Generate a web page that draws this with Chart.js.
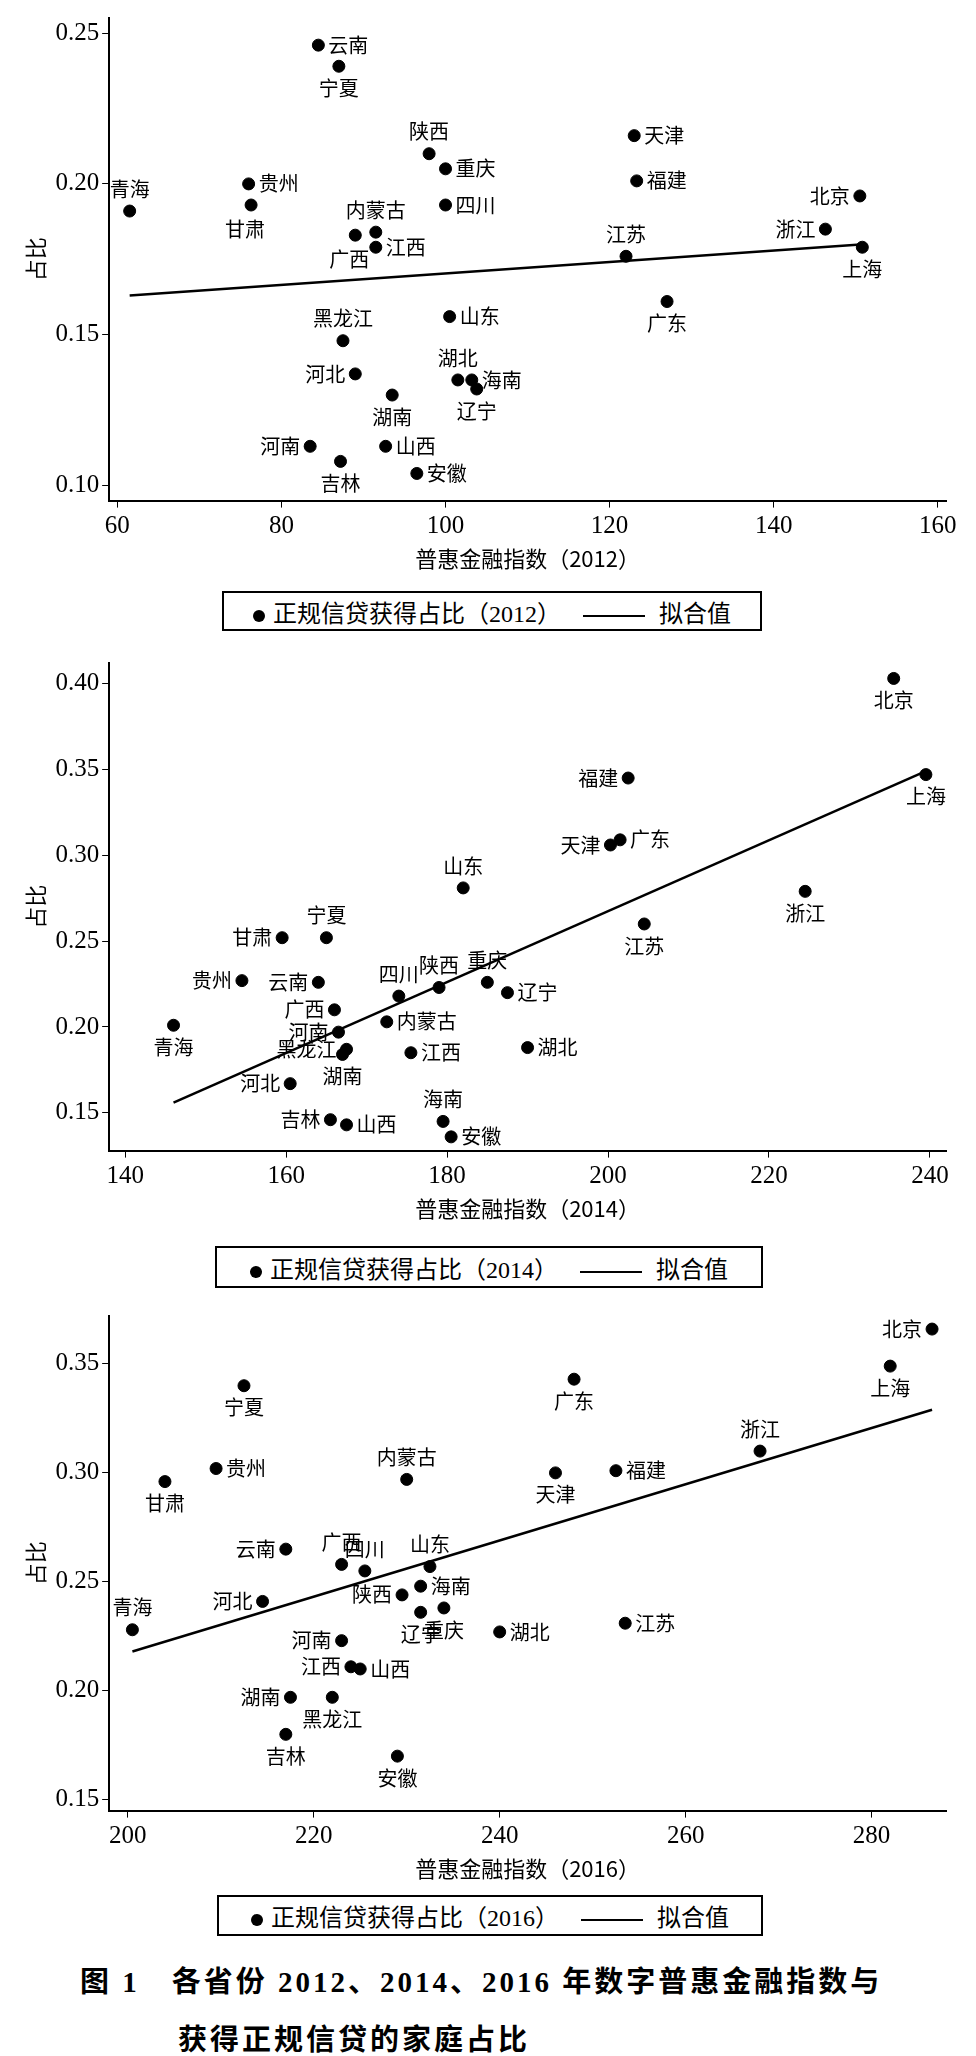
<!DOCTYPE html>
<html><head><meta charset="utf-8">
<script src="https://cdn.jsdelivr.net/npm/chart.js@4/dist/chart.umd.min.js"></script>
<style>
body{margin:0;background:#fff;width:976px;height:2056px;position:relative;font-family:"Liberation Serif","Noto Sans CJK SC",serif;}
.c{position:absolute;left:0;width:976px;}
.lg{position:absolute;border:2px solid #000;box-sizing:border-box;font-size:24px;display:flex;align-items:center;justify-content:center;gap:22px;font-family:"Liberation Serif","Noto Sans CJK SC";}
.dot{display:inline-block;width:12px;height:12px;border-radius:50%;background:#000;margin-right:8px;vertical-align:middle}
.ln{display:inline-block;width:62px;border-top:2px solid #000;vertical-align:middle;margin-right:14px}
.cap{position:absolute;left:80px;font-weight:bold;font-size:29px;letter-spacing:3px;font-family:"Liberation Serif","Noto Sans CJK SC";}
</style></head><body>
<div class="c" style="top:0;height:580px"><canvas id="c1"></canvas></div>
<div class="c" style="top:645px;height:585px"><canvas id="c2"></canvas></div>
<div class="c" style="top:1298px;height:592px"><canvas id="c3"></canvas></div>
<div class="lg" style="left:222px;top:591px;width:540px;height:40px"><span><span class="dot"></span>正规信贷获得占比（2012）</span><span><span class="ln"></span>拟合值</span></div>
<div class="lg" style="left:215px;top:1246px;width:548px;height:42px"><span><span class="dot"></span>正规信贷获得占比（2014）</span><span><span class="ln"></span>拟合值</span></div>
<div class="lg" style="left:217px;top:1895px;width:546px;height:41px"><span><span class="dot"></span>正规信贷获得占比（2016）</span><span><span class="ln"></span>拟合值</span></div>
<div class="cap" style="top:1958px">图 1　各省份 2012、2014、2016 年数字普惠金融指数与</div>
<div class="cap" style="top:2016px;left:178px">获得正规信贷的家庭占比</div>
<script>
const names2012=["青海","贵州","甘肃","云南","宁夏","陕西","重庆","四川","内蒙古","广西","江西","天津","福建","北京","浙江","江苏","上海","广东","山东","黑龙江","河北","湖北","海南","辽宁","湖南","河南","山西","吉林","安徽"];
const x2012=[61.5,76,76.3,84.5,87,98,100,100,91.5,89,91.5,123,123.3,150.5,146.3,122,150.8,127,100.5,87.5,89,101.5,103.2,103.8,93.5,83.5,92.7,87.2,96.5];
const y2012=[0.191,0.200,0.193,0.246,0.239,0.210,0.205,0.193,0.184,0.183,0.179,0.216,0.201,0.196,0.185,0.176,0.179,0.161,0.156,0.148,0.137,0.135,0.135,0.132,0.130,0.113,0.113,0.108,0.104];
const pos2012=["t","r","bl","r","b","t","r","r","t","bl","r","r","r","l","l","t","b","b","r","t","l","t","r","b","b","l","r","b","r"];
const fitX2012=[61.5,151],fitY2012=[0.163,0.180];

const names2014=["北京","福建","上海","天津","广东","山东","浙江","江苏","宁夏","甘肃","贵州","云南","四川","陕西","重庆","辽宁","广西","内蒙古","河南","黑龙江","湖南","江西","湖北","青海","河北","吉林","山西","海南","安徽"];
const x2014=[235.5,202.5,239.5,200.3,201.5,182,224.5,204.5,165,159.5,154.5,164,174,179,185,187.5,166,172.5,166.5,167.5,167,175.5,190,146,160.5,165.5,167.5,179.5,180.5];
const y2014=[0.403,0.345,0.347,0.306,0.309,0.281,0.279,0.260,0.252,0.252,0.227,0.226,0.218,0.223,0.226,0.220,0.210,0.203,0.197,0.187,0.184,0.185,0.188,0.201,0.167,0.146,0.143,0.145,0.136];
const pos2014=["b","l","b","l","r","t","b","b","t","l","l","l","t","t","t","r","l","r","l","l","b","r","r","b","l","l","r","t","r"];
const fitX2014=[146,239.5],fitY2014=[0.156,0.349];

const names2016=["北京","上海","宁夏","广东","浙江","内蒙古","天津","福建","贵州","甘肃","云南","广西","四川","山东","海南","陕西","辽宁","重庆","湖北","江苏","河北","青海","河南","江西","山西","湖南","黑龙江","吉林","安徽"];
const x2016=[286.5,282,212.5,248,268,230,246,252.5,209.5,204,217,223,225.5,232.5,231.5,229.5,231.5,234,240,253.5,214.5,200.5,223,224,225,217.5,222,217,229];
const y2016=[0.366,0.349,0.340,0.343,0.310,0.297,0.300,0.301,0.302,0.296,0.265,0.258,0.255,0.257,0.248,0.244,0.236,0.238,0.227,0.231,0.241,0.228,0.223,0.211,0.210,0.197,0.197,0.180,0.170];
const pos2016=["l","b","b","b","t","t","b","r","r","b","l","t","t","t","r","l","b","b","r","r","l","t","l","l","r","l","b","b","b"];
const fitX2016=[200.5,286.5],fitY2016=[0.218,0.329];

const labelPlugin={id:'lab',afterDatasetsDraw(ch){
  const ctx=ch.ctx,meta=ch.getDatasetMeta(0),o=ch.options.plugins.lab;
  ctx.save();ctx.fillStyle='#000';ctx.font='20px "Noto Sans CJK SC"';
  meta.data.forEach((p,i)=>{
    const t=o.names[i],q=o.pos[i];let x=p.x,y=p.y;
    if(q==='r'){ctx.textAlign='left';ctx.textBaseline='middle';x+=10;}
    else if(q==='l'){ctx.textAlign='right';ctx.textBaseline='middle';x-=10;}
    else if(q==='t'){ctx.textAlign='center';ctx.textBaseline='bottom';y-=12;}
    else if(q==='b'){ctx.textAlign='center';ctx.textBaseline='top';y+=12;}
    else if(q==='bl'){ctx.textAlign='right';ctx.textBaseline='top';y+=14;x+=14;}
    ctx.fillText(t,x,y);
  });ctx.restore();}};
Chart.register(labelPlugin);

function mkTicks(a,step){
  const out=[];const s=Math.ceil(a.min/step-1e-9),e=Math.floor(a.max/step+1e-9);
  for(let k=s;k<=e;k++)out.push({value:+(k*step).toFixed(4)});
  a.ticks=out;
}
function mk(id,xs,ys,nm,ps,fx,fy,xr,yr,xstep,ystep,year,pad){
  new Chart(document.getElementById(id),{
    type:'scatter',
    data:{datasets:[
      {data:xs.map((x,i)=>({x,y:ys[i]})),backgroundColor:'#000',borderColor:'#000',pointRadius:6,pointHoverRadius:6},
      {type:'line',data:fx.map((x,i)=>({x,y:fy[i]})),borderColor:'#000',borderWidth:2.5,pointRadius:0,fill:false}
    ]},
    options:{responsive:true,maintainAspectRatio:false,animation:false,
      layout:{padding:pad},
      plugins:{legend:{display:false},tooltip:{enabled:false},lab:{names:nm,pos:ps}},
      scales:{
        x:{type:'linear',min:xr[0],max:xr[1],
          afterBuildTicks(a){mkTicks(a,xstep);},
          ticks:{color:'#000',font:{family:'Liberation Serif',size:25},padding:4,callback:v=>String(v)},
          grid:{drawOnChartArea:false,color:'#000',tickLength:7},border:{color:'#000',width:2},
          title:{display:true,text:'普惠金融指数（'+year+'）',color:'#000',font:{family:'Noto Sans CJK SC',size:22},padding:{top:0}}},
        y:{type:'linear',min:yr[0],max:yr[1],
          afterBuildTicks(a){mkTicks(a,ystep);},
          ticks:{color:'#000',font:{family:'Liberation Serif',size:25},callback:v=>Number(v).toFixed(2)},
          grid:{drawOnChartArea:false,color:'#000',tickLength:7},border:{color:'#000',width:2},
          title:{display:true,text:'占比',color:'#000',font:{family:'Noto Sans CJK SC',size:22}}}
      }}});
}
mk('c1',x2012,y2012,names2012,pos2012,fitX2012,fitY2012,[59,161],[0.095,0.255],20,0.05,2012,{left:18,right:30,top:14,bottom:4});
mk('c2',x2014,y2014,names2014,pos2014,fitX2014,fitY2014,[138,242],[0.128,0.412],20,0.05,2014,{left:18,right:30,top:14,bottom:4});
mk('c3',x2016,y2016,names2016,pos2016,fitX2016,fitY2016,[198,288],[0.145,0.372],20,0.05,2016,{left:18,right:30,top:14,bottom:4});
</script></body></html>
